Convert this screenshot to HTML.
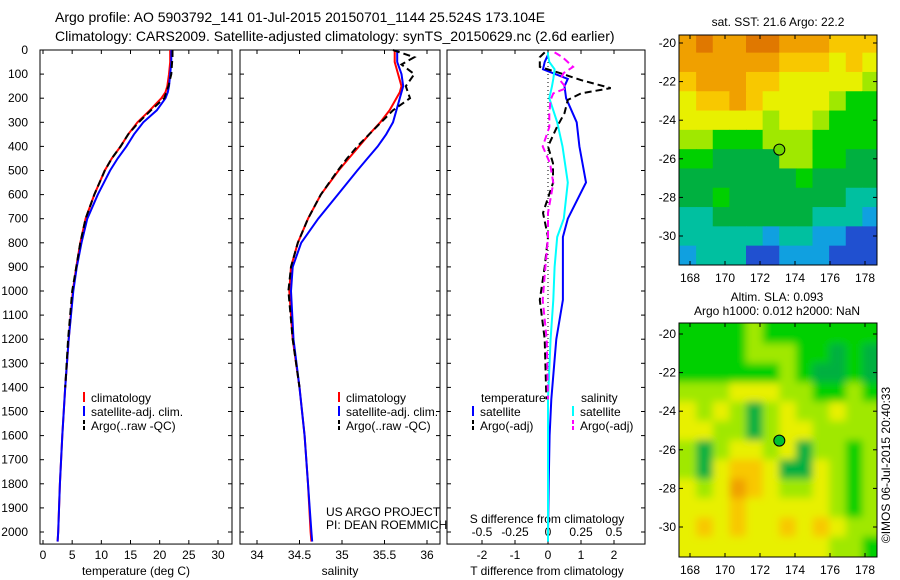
<!DOCTYPE html>
<html><head><meta charset="utf-8"><style>
body{margin:0;background:#fff}
svg{display:block;font-family:"Liberation Sans",sans-serif}
</style></head><body>
<svg id="fig" width="900" height="580" viewBox="0 0 900 580" xmlns="http://www.w3.org/2000/svg">
<defs><filter id="blur" x="0" y="0" width="1" height="1"><feGaussianBlur stdDeviation="4"/></filter>
<clipPath id="m1clip"><rect x="679" y="35" width="198" height="230"/></clipPath>
<clipPath id="m2clip"><rect x="679" y="323" width="198" height="234"/></clipPath></defs>
<text x="55" y="22" font-size="14">Argo profile: AO 5903792_141 01-Jul-2015 20150701_1144 25.524S 173.104E</text>
<text x="55" y="41" font-size="14">Climatology: CARS2009. Satellite-adjusted climatology: synTS_20150629.nc (2.6d earlier)</text>
<g id="g"></g>
<text x="890" y="465" font-size="12" text-anchor="middle" transform="rotate(-90 890 465)">©IMOS 06-Jul-2015 20:40:33</text>
</svg>
<script>
// ---- data ----
const depthsClim=[0,50,100,150,175,200,250,300,350,400,450,500,600,700,800,900,1000,1200,1400,1600,1800,2000,2040];
const tempClim=[21.8,21.8,21.6,21.3,21,20.3,18.3,16.2,14.6,13.3,11.8,10.6,8.8,7.3,6.4,5.7,5.1,4.4,3.8,3.3,2.9,2.6,2.5];
const tempSat=[22,22,21.8,21.6,21.4,21,19.5,17.2,15.6,14.3,12.8,11.5,9.4,7.6,6.6,5.8,5.2,4.4,3.8,3.3,2.9,2.6,2.5];
const depthsArgo=[0,30,60,100,150,200,250,300,350,400,450,500,600,700,800,900,1000,1200,1400];
const tempArgo=[22.2,22.2,22.1,22,21.5,20.8,18.5,16.4,14.6,13.3,11.8,10.6,8.8,7.3,6.4,5.7,5.0,4.3,3.8];
const salClim=[35.62,35.62,35.66,35.7,35.68,35.64,35.56,35.45,35.32,35.2,35.08,34.96,34.75,34.6,34.48,34.4,34.38,34.42,34.5,34.56,34.6,34.63,34.64];
const salSat=[35.65,35.65,35.7,35.72,35.7,35.68,35.64,35.6,35.52,35.42,35.3,35.18,34.95,34.72,34.52,34.42,34.4,34.43,34.5,34.56,34.6,34.64,34.65];
const salArgo=[35.6,35.85,35.7,35.85,35.75,35.8,35.6,35.46,35.32,35.18,35.06,34.95,34.75,34.6,34.48,34.4,34.37,34.42,34.5];
const depthsDiff=[10,20,50,80,120,150,200,300,400,550,700,776,900,1037,1200,1450,1600,1800,2000,2040];
const tDiffSat=[0,0,-0.1,-0.15,0.6,0.5,0.55,0.87,0.95,1.15,0.6,0.45,0.45,0.45,0.25,0.1,0.05,0.02,0,0];
const sDiffSat=[0,0,0.01,0.05,0.04,0.03,0.01,0.07,0.11,0.15,0.12,0.07,0.05,0.04,0.02,0,0,0,0,0];
const depthsDiffArgo=[10,30,70,95,125,158,180,207,262,320,400,470,552,676,776,900,1037,1200,1450];
const tDiffArgo=[-0.1,-0.25,-0.25,0.35,1.0,1.9,1.0,0.6,0.5,0.27,0,0.15,0.15,-0.15,0,-0.1,-0.25,-0.1,-0.05];
const sDiffArgo=[0.05,0.11,0.19,0.12,0.09,0.14,0.04,0.02,0.01,0.01,-0.04,0.015,0.04,0,0,-0.02,-0.04,-0.01,0];
const depthTicks=[0,100,200,300,400,500,600,700,800,900,1000,1100,1200,1300,1400,1500,1600,1700,1800,1900,2000];
const tempTicks=[0,5,10,15,20,25,30];
const salTicks=[34,34.5,35,35.5,36];
const tDiffTicks=[-2,-1,0,1,2];
const tDiffLabels=["-2","-1","0","1","2"];
const sDiffLabels=["-0.5","-0.25","0","0.25","0.5"];
const lonTicks=[168,170,172,174,176,178];
const latTicks=[-20,-22,-24,-26,-28,-30];
const sstGrid=[
[1,0,1,1,0,0,1,1,1,2,2,2],[1,1,1,1,1,1,2,2,2,3,2,3],[2,1,1,1,2,2,3,3,3,3,3,4],
[3,2,2,1,2,3,3,3,3,4,5,5],[3,3,3,3,3,4,3,3,4,5,5,5],[4,4,5,5,5,4,4,4,5,5,5,5],
[5,5,6,6,6,6,4,4,5,5,6,6],[6,6,6,6,6,6,6,5,6,6,6,6],[6,6,5,6,6,6,6,6,6,6,7,7],
[7,7,6,6,6,6,6,6,7,7,7,8],[7,7,7,7,7,8,7,7,8,8,9,9],[8,7,7,7,9,9,8,8,8,9,9,9]];
const slaGrid=[
[5,5,5,5,4,5,5,5,5,5,5,5],[5,5,5,5,4,4,4,5,5,6,5,6],[5,5,5,5,5,5,4,5,6,6,5,6],
[4,4,4,3,3,3,4,4,5,5,4,5],[3,4,3,4,6,4,3,4,4,3,4,4],[3,3,4,4,6,4,3,3,4,4,4,4],
[4,6,4,3,3,4,3,6,4,4,5,4],[4,6,3,2,2,3,6,6,3,4,5,4],[3,4,3,1,2,3,4,4,3,4,5,4],
[3,3,3,2,3,3,3,3,3,4,5,4],[3,2,3,2,3,3,2,3,2,3,4,4],[3,3,3,3,3,3,3,3,3,4,4,5]];
const palette=["#e07800","#f0a000","#f8c800","#e8f000","#a0e800","#00d000","#00b040","#00c0a0","#10a0e0","#2050d0"];
// ---- drawing ----
const NS="http://www.w3.org/2000/svg";const G=document.getElementById('g');
function el(t,a,p){const e=document.createElementNS(NS,t);for(const k in a)e.setAttribute(k,a[k]);(p||G).appendChild(e);return e;}
const yTop=50,yScale=0.241;const yD=d=>yTop+d*yScale;const boxB=yD(2050);
function lin(v0,p0,v1,p1){return v=>p0+(v-v0)*(p1-p0)/(v1-v0);}
const xT=lin(0,43,30,218),xS=lin(34,257,36,427),xTd=lin(0,548,1,581),xSd=lin(0,548,0.25,581);
const panels=[[40,232,'temperature-panel'],[240,440,'salinity-panel'],[447,645,'difference-panel']];
panels.forEach(p=>{const r=el('rect',{x:p[0],y:yTop,width:p[1]-p[0],height:boxB-yTop,fill:'none',stroke:'#000','stroke-width':1});


depthTicks.forEach(d=>{el('line',{x1:p[0],x2:p[0]+4,y1:yD(d),y2:yD(d),stroke:'#000'});el('line',{x1:p[1]-4,x2:p[1],y1:yD(d),y2:yD(d),stroke:'#000'});});});
depthTicks.forEach(d=>{const t=el('text',{x:28,y:yD(d)+4,'font-size':12,'text-anchor':'end'});t.textContent=d;

});
function xticks(vals,labels,fx,y,name){vals.forEach((v,i)=>{const x=fx(v);el('line',{x1:x,x2:x,y1:boxB,y2:boxB-4,stroke:'#000'});el('line',{x1:x,x2:x,y1:yTop,y2:yTop+4,stroke:'#000'});
const t=el('text',{x:x,y:y,'font-size':12,'text-anchor':'middle'});t.textContent=labels[i];

});}
xticks(tempTicks,tempTicks,xT,559,'temp-tick-label');
xticks(salTicks,salTicks,xS,559,'sal-tick-label');
xticks(tDiffTicks,tDiffLabels,xTd,559,'tdiff-tick-label');
tDiffTicks.forEach((v,i)=>{const t=el('text',{x:xTd(v),y:536,'font-size':12,'text-anchor':'middle'});t.textContent=sDiffLabels[i];

});
function label(x,y,s,name,anchor){const t=el('text',{x:x,y:y,'font-size':12,'text-anchor':anchor||'middle'});t.textContent=s;

return t;}
label(136,575,'temperature (deg C)','x-axis-title-temperature');
label(340,575,'salinity','x-axis-title-salinity');
label(547,575,'T difference from climatology','x-axis-title-tdiff');
label(547,523,'S difference from climatology','x-axis-title-sdiff');
label(326,516,'US ARGO PROJECT','project-label','start');
label(326,529,'PI: DEAN ROEMMICH','pi-label','start');
function line(ds,vs,fx,col,w,dash,name){const pts=ds.map((d,i)=>fx(vs[i]).toFixed(1)+','+yD(d).toFixed(1)).join(' ');
const pl=el('polyline',{points:pts,fill:'none',stroke:col,'stroke-width':w});if(dash)pl.setAttribute('stroke-dasharray',dash);

}
line(depthsClim,tempClim,xT,'#f00',2,null,'temp-climatology-line');
line(depthsClim,tempSat,xT,'#00f',2,null,'temp-satellite-line');
line(depthsArgo,tempArgo,xT,'#000',2,'7,4','temp-argo-line');
line(depthsClim,salClim,xS,'#f00',2,null,'sal-climatology-line');
line(depthsClim,salSat,xS,'#00f',2,null,'sal-satellite-line');
line(depthsArgo,salArgo,xS,'#000',2,'7,4','sal-argo-line');
el('line',{x1:xTd(0),x2:xTd(0),y1:yTop,y2:boxB,stroke:'#000','stroke-dasharray':'1,3'});
line(depthsDiff,tDiffSat,xTd,'#00f',2,null,'tdiff-satellite-line');
line(depthsDiff,sDiffSat,xSd,'#0ff',2,null,'sdiff-satellite-line');
line(depthsDiffArgo,tDiffArgo,xTd,'#000',2,'7,4','tdiff-argo-line');
line(depthsDiffArgo,sDiffArgo,xSd,'#f0f',2,'7,4','sdiff-argo-line');
function leg(x,y,col,dash,s,name){el('line',{x1:x,x2:x,y1:y-10,y2:y,stroke:col,'stroke-width':2,'stroke-dasharray':dash||'none'});label(x+7,y,s,name,'start');}
leg(84,402,'#f00',null,'climatology','legend-climatology');leg(84,416,'#00f',null,'satellite-adj. clim.','legend-satellite');leg(84,430,'#000','4,2','Argo(..raw -QC)','legend-argo');
leg(339,402,'#f00',null,'climatology','legend-climatology-2');leg(339,416,'#00f',null,'satellite-adj. clim.','legend-satellite-2');leg(339,430,'#000','4,2','Argo(..raw -QC)','legend-argo-2');
label(481,402,'temperature','legend-temperature-header','start');label(581,402,'salinity','legend-salinity-header','start');
leg(473,416,'#00f',null,'satellite','legend-t-satellite');leg(473,430,'#000','4,2','Argo(-adj)','legend-t-argo');
leg(573,416,'#0ff',null,'satellite','legend-s-satellite');leg(573,430,'#f0f','4,2','Argo(-adj)','legend-s-argo');
// maps
function map(x0,y0,h,latY0,latY1,grid,clip,blur,name){
const g=el('g',{'clip-path':'url(#'+clip+')'});

const inner=el('g',blur?{filter:'url(#blur)'}:{},g);
const lonX=lin(168,690,178,865);const lx0=lonX(167.4),cw=(lonX(178.8)-lx0)/12;
const latY=lin(-20,latY0,-30,latY1);const ly0=latY(-19.5),ch=(latY(-31.5)-ly0)/12;
if(blur)el('rect',{x:x0-20,y:y0-20,width:240,height:h+40,fill:palette[4]},inner);
grid.forEach((row,r)=>row.forEach((c,k)=>{const cell=el('rect',{x:lx0+k*cw-(blur?(k==0?20:0):0),y:ly0+r*ch-(blur&&r==0?20:0),width:cw+0.6+(blur&&(k==0||k==11)?20:0),height:ch+0.6+(blur&&(r==0||r==11)?20:0),fill:palette[c]},inner);

}));
el('rect',{x:x0,y:y0,width:198,height:h,fill:'none',stroke:'#000'});
lonTicks.forEach(v=>{const x=lonX(v);el('line',{x1:x,x2:x,y1:y0,y2:y0+4,stroke:'#000'});el('line',{x1:x,x2:x,y1:y0+h,y2:y0+h-4,stroke:'#000'});label(x,y0+h+17,v,'lon-tick-label');});
latTicks.forEach(v=>{const y=latY(v);el('line',{x1:x0,x2:x0+4,y1:y,y2:y,stroke:'#000'});el('line',{x1:x0+198,x2:x0+194,y1:y,y2:y,stroke:'#000'});label(x0-3,y+4,v,'lat-tick-label','end');});
const c=el('circle',{cx:lonX(173.104),cy:latY(-25.524),r:5.5,fill:blur?'#00c030':'#70d800',stroke:'#000'});

}
map(679,35,230,43,236,sstGrid,'m1clip',false,'sst-map');
map(679,323,234,334,527,slaGrid,'m2clip',true,'sla-map');
label(778,26,'sat. SST: 21.6 Argo: 22.2','sst-map-title');
label(777,301,'Altim. SLA: 0.093','sla-map-title');
label(777,315,'Argo h1000: 0.012 h2000: NaN','sla-map-subtitle');
</script>
</body></html>
